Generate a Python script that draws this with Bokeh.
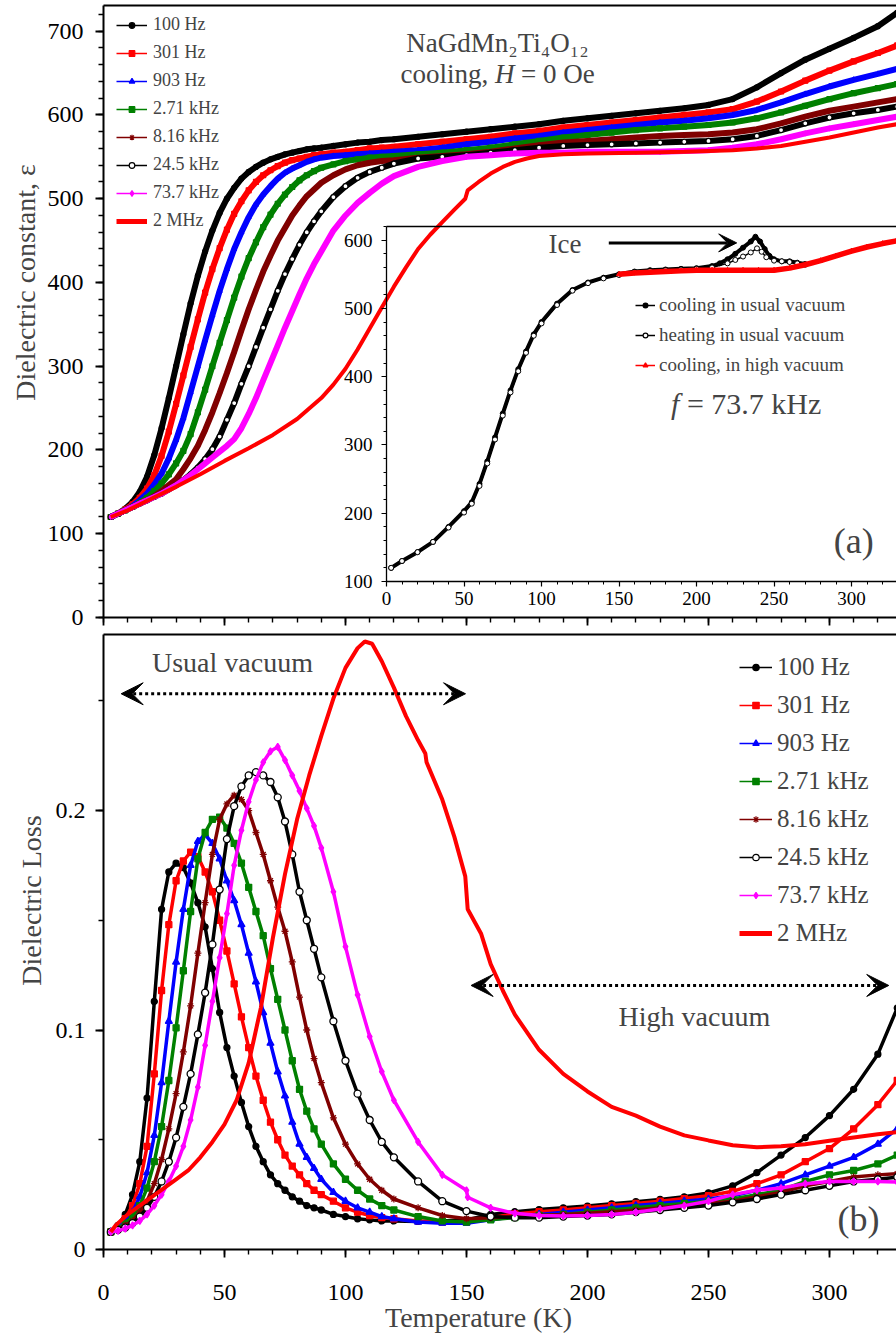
import math
from bokeh.plotting import figure
from bokeh.models import (Range1d, LinearAxis, Legend, LegendItem, Label, Arrow, VeeHead,
                          SingleIntervalTicker, FixedTicker, CustomJSTickFormatter)
from bokeh.layouts import column
from bokeh.embed import file_html
from bokeh.resources import INLINE

FONT = "Liberation Serif"
NAN = float("nan")

# ---------------- data ----------------
T = [3, 6, 9, 12, 15, 18, 21, 24, 27, 30, 33, 36, 39, 42, 45, 48, 51, 54, 57, 60,
     63, 66, 69, 72, 75, 78, 81, 84, 87, 90, 95, 100, 105, 110, 115, 120, 130, 140, 150,
     160, 170, 180, 190, 200, 210, 220, 230, 240, 250, 260, 270, 280, 290, 300, 310, 320, 328]

eps_100Hz = [120, 124, 130, 138, 150, 168, 194, 226, 262, 300, 338, 375, 408, 437, 462, 483, 500, 513, 524, 532,
             538, 543, 547, 550, 553, 555, 557, 559, 560, 561, 563, 565, 567, 568, 570, 571, 574, 577, 580,
             583, 586, 589, 593, 596, 599, 602, 605, 608, 612, 619, 633, 650, 666, 679, 692, 706, 722]
eps_301Hz = [120, 124, 129, 135, 143, 154, 170, 193, 222, 255, 289, 323, 356, 388, 416, 441, 463, 482, 497, 510,
             520, 528, 534, 539, 543, 546, 548, 550, 552, 553, 555, 556, 558, 560, 561, 562, 565, 568, 571,
             574, 578, 581, 585, 588, 591, 594, 597, 600, 603, 607, 616, 628, 641, 653, 664, 674, 683]
eps_903Hz = [120, 124, 128, 133, 140, 148, 159, 172, 190, 212, 238, 269, 300, 331, 361, 390, 416, 440, 460, 478,
             493, 505, 515, 524, 531, 536, 540, 544, 547, 549, 551, 552, 553, 554, 555, 556, 558, 561, 565,
             568, 572, 575, 579, 582, 585, 588, 591, 593, 596, 600, 606, 615, 625, 634, 642, 649, 655]
eps_2710Hz = [120, 124, 128, 132, 137, 143, 151, 160, 171, 184, 199, 219, 245, 272, 300, 328, 355, 382, 407, 429,
              448, 466, 481, 494, 505, 514, 522, 528, 533, 537, 541, 545, 547, 549, 550, 551, 553, 555, 558,
              561, 565, 569, 573, 576, 579, 582, 584, 586, 588, 591, 596, 603, 611, 619, 626, 632, 637]
eps_8160Hz = [120, 124, 128, 132, 136, 140, 145, 151, 158, 165, 177, 190, 205, 224, 245, 268, 292, 317, 343, 368,
              391, 413, 432, 450, 465, 480, 492, 503, 511, 519, 528, 535, 540, 543, 545, 546, 549, 551, 553,
              556, 560, 564, 567, 569, 571, 573, 575, 576, 577, 579, 583, 590, 598, 605, 610, 615, 619]
eps_24500Hz = [120, 124, 128, 132, 136, 140, 144, 148, 153, 158, 164, 171, 179, 189, 201, 216, 236, 256, 279, 300,
               323, 346, 368, 390, 410, 428, 445, 460, 473, 485, 502, 515, 525, 532, 537, 542, 548, 550, 552,
               555, 558, 561, 563, 564, 565, 566, 567, 568, 569, 571, 575, 582, 590, 597, 602, 606, 610]
eps_73700Hz = [120, 124, 128, 132, 136, 140, 144, 148, 153, 158, 164, 170, 177, 184, 191, 198, 205, 213, 226, 243,
               262, 283, 304, 325, 346, 366, 386, 405, 422, 437, 462, 480, 495, 507, 518, 527, 538, 545, 550,
               552, 554, 555, 555, 556, 556, 556, 556, 557, 558, 561, 565, 571, 578, 584, 589, 594, 598]

T_2MHz_eps = [3, 10, 20, 30, 40, 50, 60, 70, 80, 90, 95, 100, 105, 110, 115, 120, 125, 130, 135, 140,
              145, 149.5, 150.5, 155, 160, 165, 170, 175, 180, 190, 200, 220, 240, 260, 270, 280, 290, 300, 310, 320, 328]
eps_2MHz = [120, 128, 142, 156, 171, 187, 202, 218, 237, 262, 278, 297, 320, 345, 370, 395, 418, 440, 457, 472,
            487, 500, 510, 520, 530, 538, 544, 548, 551, 553, 554, 555, 556, 558, 560, 563, 568, 573, 579, 585, 589]

loss_100Hz = [0.008, 0.011, 0.016, 0.025, 0.040, 0.069, 0.113, 0.155, 0.172, 0.176,
              0.174, 0.167, 0.158, 0.147, 0.128, 0.108, 0.092, 0.079, 0.067, 0.056,
              0.047, 0.040, 0.034, 0.030, 0.027, 0.024, 0.022, 0.020, 0.019, 0.018,
              0.016, 0.015, 0.014, 0.0135, 0.013, 0.013, 0.0128, 0.013, 0.0135,
              0.016, 0.0172, 0.0182, 0.019, 0.0198, 0.0208, 0.0218, 0.0228, 0.024, 0.0258, 0.029,
              0.035, 0.043, 0.051, 0.061, 0.073, 0.089, 0.110]
loss_301Hz = [0.008, 0.010, 0.014, 0.020, 0.030, 0.047, 0.080, 0.118, 0.148, 0.168,
              0.177, 0.181, 0.179, 0.172, 0.163, 0.150, 0.136, 0.121, 0.106, 0.092,
              0.079, 0.068, 0.058, 0.050, 0.043, 0.038, 0.034, 0.030, 0.027, 0.025,
              0.022, 0.019, 0.017, 0.0155, 0.0145, 0.014, 0.013, 0.0125, 0.0125,
              0.0145, 0.0162, 0.0172, 0.018, 0.019, 0.020, 0.021, 0.022, 0.0232, 0.0245, 0.0265,
              0.030, 0.034, 0.040, 0.046, 0.055, 0.066, 0.077]
loss_903Hz = [0.008, 0.010, 0.013, 0.017, 0.024, 0.035, 0.052, 0.076, 0.104, 0.131,
              0.155, 0.175, 0.186, 0.189, 0.185, 0.178, 0.168, 0.159, 0.148, 0.135,
              0.122, 0.108, 0.094, 0.081, 0.070, 0.058, 0.048, 0.042, 0.037, 0.032,
              0.026, 0.022, 0.019, 0.017, 0.015, 0.014, 0.0125, 0.012, 0.012,
              0.0135, 0.015, 0.016, 0.017, 0.018, 0.019, 0.020, 0.021, 0.022, 0.023, 0.0245,
              0.027, 0.030, 0.034, 0.038, 0.042, 0.048, 0.055]
loss_2710Hz = [0.008, 0.0095, 0.012, 0.015, 0.020, 0.028, 0.040, 0.056, 0.077, 0.101,
               0.127, 0.154, 0.178, 0.190, 0.196, 0.197, 0.192, 0.185, 0.176, 0.165,
               0.154, 0.143, 0.128, 0.114, 0.100, 0.086, 0.073, 0.063, 0.055, 0.048,
               0.039, 0.032, 0.027, 0.023, 0.020, 0.018, 0.015, 0.013, 0.0125,
               0.0135, 0.0145, 0.0155, 0.016, 0.017, 0.018, 0.019, 0.020, 0.021, 0.022, 0.023,
               0.025, 0.027, 0.031, 0.034, 0.036, 0.039, 0.043]
loss_8160Hz = [0.008, 0.009, 0.011, 0.013, 0.017, 0.022, 0.030, 0.041, 0.055, 0.071,
               0.090, 0.111, 0.135, 0.158, 0.180, 0.196, 0.203, 0.207, 0.205, 0.200,
               0.190, 0.180, 0.168, 0.156, 0.145, 0.131, 0.115, 0.100, 0.087, 0.076,
               0.060, 0.048, 0.039, 0.032, 0.027, 0.023, 0.019, 0.0155, 0.014,
               0.0145, 0.015, 0.0155, 0.016, 0.0165, 0.0172, 0.018, 0.019, 0.020, 0.021, 0.022,
               0.024, 0.026, 0.029, 0.031, 0.033, 0.034, 0.0345]
loss_24500Hz = [0.008, 0.009, 0.010, 0.012, 0.015, 0.019, 0.024, 0.031, 0.040, 0.051,
                0.065, 0.080, 0.098, 0.117, 0.139, 0.164, 0.187, 0.202, 0.211, 0.216,
                0.2175, 0.216, 0.213, 0.206, 0.195, 0.180, 0.163, 0.150, 0.137, 0.124,
                0.104, 0.086, 0.071, 0.059, 0.049, 0.042, 0.031, 0.022, 0.0175,
                0.015, 0.0145, 0.0145, 0.015, 0.0155, 0.016, 0.017, 0.018, 0.019, 0.020, 0.0215,
                0.023, 0.025, 0.027, 0.029, 0.031, 0.032, 0.033]
T_73k_loss = [3, 6, 9, 12, 15, 18, 21, 24, 27, 30, 33, 36, 39, 42, 45, 48, 51, 54, 57, 60,
              63, 66, 69, 72, 75, 78, 81, 84, 87, 90, 95, 100, 105, 110, 115, 120, 130, 140, 150, 150.5,
              160, 170, 180, 190, 200, 210, 220, 230, 240, 250, 260, 270, 280, 290, 300, 310, 320, 328]
loss_73700Hz = [0.008, 0.0085, 0.0095, 0.011, 0.013, 0.016, 0.020, 0.025, 0.031, 0.038,
                0.047, 0.059, 0.074, 0.093, 0.113, 0.133, 0.153, 0.175, 0.191, 0.204,
                0.214, 0.222, 0.227, 0.229, 0.223, 0.216, 0.209, 0.201, 0.193, 0.183,
                0.163, 0.138, 0.116, 0.097, 0.081, 0.068, 0.049, 0.034, 0.027, 0.0238,
                0.019, 0.0165, 0.0155, 0.0153, 0.0155, 0.016, 0.017, 0.0185, 0.020, 0.022,
                0.025, 0.027, 0.028, 0.030, 0.031, 0.031, 0.031, 0.0307]
T_2MHz_loss = [3, 5, 10, 15, 20, 25, 30, 35, 40, 45, 50, 55, 60, 65, 70, 75, 80, 85, 90, 95,
               100, 105, 108, 111, 115, 120, 125, 130, 133, 133.5, 140, 145, 149.5, 150.5, 156, 160, 165, 170, 180, 190,
               200, 210, 220, 230, 240, 250, 260, 270, 280, 290, 300, 310, 320, 328]
loss_2MHz = [0.008, 0.011, 0.016, 0.020, 0.024, 0.028, 0.032, 0.036, 0.042, 0.049,
             0.057, 0.068, 0.085, 0.110, 0.142, 0.171, 0.196, 0.216, 0.234, 0.251,
             0.265, 0.274, 0.277, 0.276, 0.268, 0.256, 0.243, 0.232, 0.226, 0.222,
             0.205, 0.188, 0.170, 0.155, 0.144, 0.130, 0.118, 0.107, 0.091, 0.080,
             0.072, 0.065, 0.061, 0.056, 0.052, 0.0497, 0.0475, 0.0466, 0.047, 0.048,
             0.0495, 0.051, 0.0525, 0.0535]

# inset (f = 73.7 kHz)
T_cool = [3, 10, 20, 30, 40, 50, 55, 60, 65, 70, 75, 80, 85, 90, 95, 100, 110, 120, 130, 140,
          150, 160, 170, 180, 190, 200, 210, 215, 220, 225, 230, 235, 238, 241, 244, 247, 250, 255, 260, 265, 270]
eps_cool = [120, 130, 143, 158, 180, 203, 216, 243, 276, 311, 346, 380, 411, 437, 462, 480, 507, 527, 538, 545,
            550, 554, 556, 557, 558, 559, 562, 566, 572, 580, 589, 598, 605, 598, 587, 577, 572, 569, 569, 567, 565]
T_heat = [3, 10, 20, 30, 40, 50, 55, 60, 65, 70, 75, 80, 85, 90, 95, 100, 110, 120, 130, 140,
          150, 160, 170, 180, 190, 200, 210, 220, 225, 230, 235, 239, 242, 245, 250, 255, 260, 265, 270]
eps_heat = [120, 130, 143, 158, 179, 201, 214, 240, 273, 308, 343, 377, 408, 435, 460, 478, 505, 526, 537, 544,
            549, 553, 555, 556, 557, 558, 560, 566, 571, 576, 582, 588, 583, 575, 570, 569, 568, 566, 564]
T_hv = [150, 160, 170, 180, 190, 200, 210, 220, 230, 240, 250, 260, 270, 280, 290, 300, 310, 320, 329]
eps_hv = [550, 552, 553, 554, 555, 556, 556, 556, 556, 556, 556, 559, 564, 570, 577, 584, 590, 595, 599]

freq_labels = ["100 Hz", "301 Hz", "903 Hz", "2.71 kHz", "8.16 kHz", "24.5 kHz", "73.7 kHz", "2 MHz"]
colors = ["black", "#FF0000", "#0000FF", "#008000", "#800000", "black", "#FF00FF", "#FF0000"]
markers = ["circle", "square", "triangle", "square", "asterisk", "circle", "diamond", None]
fills = ["black", "#FF0000", "#0000FF", "#008000", "#800000", "white", "#FF00FF", None]
bot_sizes = [6, 6, 7, 6, 7, 7, 7, None]


# ---------------- helpers ----------------
def new_fig(w, h, xr, yr, left, right, top_b, bottom_b, axes=True):
    kw = {} if axes else {"x_axis_location": None, "y_axis_location": None}
    p = figure(width=w, height=h, x_range=Range1d(*xr), y_range=Range1d(*yr),
               output_backend="svg", toolbar_location=None,
               min_border_left=left, min_border_right=right,
               min_border_top=top_b, min_border_bottom=bottom_b, **kw)
    p.grid.visible = False
    p.outline_line_color = None
    return p


def style_axis(ax, label_px, standoff, tick_major=8, tick_minor=5, width=2):
    ax.axis_line_width = width
    ax.axis_line_color = "black"
    ax.major_tick_line_width = 1.8
    ax.minor_tick_line_width = 1.4
    ax.major_tick_line_color = "black"
    ax.minor_tick_line_color = "black"
    ax.major_tick_out = tick_major
    ax.major_tick_in = 0
    ax.minor_tick_out = tick_minor
    ax.minor_tick_in = 0
    ax.major_label_text_font = FONT
    ax.major_label_text_font_size = f"{label_px}px"
    ax.major_label_text_color = "black"
    ax.major_label_standoff = standoff


def add_top_border(p, width=2):
    ax = LinearAxis(ticker=FixedTicker(ticks=[]), formatter=CustomJSTickFormatter(code="return ''"))
    ax.axis_line_width = width
    ax.axis_line_color = "black"
    ax.major_tick_line_color = None
    ax.minor_tick_line_color = None
    ax.major_label_text_font_size = "0px"
    ax.major_label_standoff = 0
    p.add_layout(ax, "above")


def legend_proxies(p, color, marker, fill, thick=False):
    # legend-only renderers (a single NaN point draws nothing in the plot)
    rs = [p.line(x=[NAN], y=[NAN], line_color=color, line_width=5 if thick else 1.5)]
    if marker:
        rs.append(p.scatter(x=[NAN], y=[NAN], marker=marker, size=6, line_color=color,
                            fill_color=fill, line_width=1.2))
    return rs


def make_legend(font_px, glyph_w, glyph_h, standoff, spacing, loc):
    return Legend(items=[], location=loc, label_text_font=FONT, label_text_font_size=f"{font_px}px",
                  glyph_width=glyph_w, glyph_height=glyph_h, label_standoff=standoff, spacing=spacing,
                  padding=0, margin=0, background_fill_alpha=0, border_line_color=None,
                  label_height=glyph_h)


def text(p, x, y, s, size, align="center", baseline="middle", style="normal", x_offset=0, angle=0):
    p.add_layout(Label(x=x, y=y, text=s, text_align=align, text_baseline=baseline, text_font=FONT,
                       text_font_size=f"{size}px", text_font_style=style, x_offset=x_offset,
                       angle=angle))


# ---------------- top panel: dielectric constant ----------------
ptop = new_fig(896, 629, (0, 327.7), (0, 730.7), 103, 0, 5, 12)
ptop.xaxis.ticker = SingleIntervalTicker(interval=50, num_minor_ticks=5)
ptop.yaxis.ticker = SingleIntervalTicker(interval=100, num_minor_ticks=5)
style_axis(ptop.xaxis[0], 24, 0)
ptop.xaxis.formatter = CustomJSTickFormatter(code="return ''")
ptop.xaxis.major_label_text_font_size = "0px"
style_axis(ptop.yaxis[0], 24, 12)
add_top_border(ptop)

eps_sets = [eps_100Hz, eps_301Hz, eps_903Hz, eps_2710Hz, eps_8160Hz, eps_24500Hz, eps_73700Hz]
for i, e in enumerate(eps_sets):
    ptop.line(T, e, line_color=colors[i], line_width=6)
    ptop.scatter(T, e, marker=markers[i], size=5, line_color=colors[i], fill_color=fills[i], line_width=1.2)
ptop.line(T_2MHz_eps, eps_2MHz, line_color=colors[7], line_width=4)

lg_top = make_legend(18, 31, 14, 6, 7, (13, 386))
for i in range(8):
    rs = legend_proxies(ptop, colors[i], markers[i], fills[i], thick=(i == 7))
    lg_top.items.append(LegendItem(label=freq_labels[i], renderers=rs))
ptop.add_layout(lg_top)

text(ptop, 162.8, 686, "NaGdMn\u2082Ti\u2084O\u2081\u2082", 27)
text(ptop, 162.8, 649, "cooling,", 27, align="left", x_offset=-97)
text(ptop, 162.8, 649, "H", 27, align="left", x_offset=-2.5, style="italic")
text(ptop, 162.8, 649, "= 0 Oe", 27, align="left", x_offset=23.5)

# ---------------- bottom panel: dielectric loss ----------------
pbot = new_fig(896, 707, (0, 327.7), (0, 0.2802), 103, 0, 5, 87)
pbot.xaxis.ticker = SingleIntervalTicker(interval=50, num_minor_ticks=5)
pbot.yaxis.ticker = SingleIntervalTicker(interval=0.1, num_minor_ticks=2)
style_axis(pbot.xaxis[0], 24, 27)
style_axis(pbot.yaxis[0], 24, 10)
pbot.yaxis.formatter = CustomJSTickFormatter(code="return String(Math.round(tick*10)/10)")
add_top_border(pbot)

loss_sets = [(T, loss_100Hz), (T, loss_301Hz), (T, loss_903Hz), (T, loss_2710Hz),
             (T, loss_8160Hz), (T, loss_24500Hz), (T_73k_loss, loss_73700Hz)]
for i, (tt, l) in enumerate(loss_sets):
    pbot.line(tt, l, line_color=colors[i], line_width=3.5)
    pbot.scatter(tt, l, marker=markers[i], size=bot_sizes[i], line_color=colors[i], fill_color=fills[i],
                 line_width=1.3)
pbot.line(T_2MHz_loss, loss_2MHz, line_color=colors[7], line_width=4)

lg_bot = make_legend(25, 33, 16, 5, 10, (636, 302))
for i in range(8):
    rs = legend_proxies(pbot, colors[i], markers[i], fills[i], thick=(i == 7))
    lg_bot.items.append(LegendItem(label=freq_labels[i], renderers=rs))
pbot.add_layout(lg_bot)

text(pbot, 53.3, 0.2674, "Usual vacuum", 28)
pbot.add_layout(Arrow(x_start=7.3, y_start=0.2532, x_end=149.6, y_end=0.2532, line_width=3,
                      line_dash="3 3", line_color="black",
                      start=VeeHead(size=22, fill_color="black", line_color="black"),
                      end=VeeHead(size=22, fill_color="black", line_color="black")))
text(pbot, 244.2, 0.1061, "High vacuum", 28)
pbot.add_layout(Arrow(x_start=151.9, y_start=0.1203, x_end=324.5, y_end=0.1203, line_width=3,
                      line_dash="3 3", line_color="black",
                      start=VeeHead(size=22, fill_color="black", line_color="black"),
                      end=VeeHead(size=22, fill_color="black", line_color="black")))
text(pbot, 312, 0.0141, "(b)", 36)

# ---------------- inset ----------------
# column aligns the left borders of its plots, so the inset keeps the same 103 px left border
pin = new_fig(613, 396, (0, 329), (100, 620), 103, 0, 5, 36)
pin.background_fill_alpha = 0
pin.border_fill_alpha = 0
pin.xaxis.ticker = SingleIntervalTicker(interval=50, num_minor_ticks=5)
pin.yaxis.ticker = SingleIntervalTicker(interval=100, num_minor_ticks=5)
style_axis(pin.xaxis[0], 19, 5, tick_major=5, tick_minor=3, width=1.3)
style_axis(pin.yaxis[0], 19, 9, tick_major=5, tick_minor=3, width=1.3)
for ax in (pin.xaxis[0], pin.yaxis[0]):
    ax.major_tick_line_width = 1.2
    ax.minor_tick_line_width = 1.0
add_top_border(pin, width=1.3)

pin.line(T_cool, eps_cool, line_color="black", line_width=4)
pin.scatter(T_cool, eps_cool, marker="circle", size=5, line_color="black", fill_color="black")
pin.line(T_heat, eps_heat, line_color="black", line_width=1.5)
pin.scatter(T_heat, eps_heat, marker="circle", size=5, line_color="black", fill_color="white", line_width=1)
pin.line(T_hv, eps_hv, line_color="#FF0000", line_width=5.5)
pin.scatter(T_hv, eps_hv, marker="triangle", size=5, line_color="#FF0000", fill_color="#FF0000")

lg_in = make_legend(19, 20, 12, 4, 8, (249, 205))
lg_in.items.append(LegendItem(label="cooling in usual vacuum",
                              renderers=legend_proxies(pin, "black", "circle", "black")))
lg_in.items.append(LegendItem(label="heating in usual vacuum",
                              renderers=legend_proxies(pin, "black", "circle", "white")))
lg_in.items.append(LegendItem(label="cooling, in high vacuum",
                              renderers=legend_proxies(pin, "#FF0000", "triangle", "#FF0000")))
pin.add_layout(lg_in)

text(pin, 183.5, 360.5, "f", 30, align="left", style="italic")
text(pin, 183.5, 360.5, "= 73.7 kHz", 30, align="left", x_offset=16)
text(pin, 115.2, 594.9, "Ice", 27)
pin.add_layout(Arrow(x_start=143.4, y_start=596, x_end=225.9, y_end=596, line_width=3, line_color="black",
                     end=VeeHead(size=18, fill_color="black", line_color="black")))
text(pin, 301.4, 159.8, "(a)", 36)

pin.styles = {"position": "absolute", "left": "283px", "top": "221px"}

# ---------------- transparent page overlay carrying the axis titles ----------------
# 896 px wide with a 103 px left border, shifted left by 103 px: its frame spans page
# pixels x 0..793, and y 0..1336 (top -> bottom), so data units equal page pixels.
pov = new_fig(896, 1336, (0, 793), (1336, 0), 103, 0, 0, 0, axes=False)
pov.background_fill_alpha = 0
pov.border_fill_alpha = 0
text(pov, 25, 282, "Dielectric constant, \u03b5", 28, angle=math.pi / 2)
text(pov, 31, 900, "Dielectric Loss", 28, angle=math.pi / 2)
text(pov, 478, 1317, "Temperature (K)", 28)
pov.styles = {"position": "absolute", "left": "-103px", "top": "0px"}

layout = column(ptop, pbot, pin, pov)
layout.styles = {"position": "relative"}

open("out.html", "w").write(file_html(layout, INLINE))
